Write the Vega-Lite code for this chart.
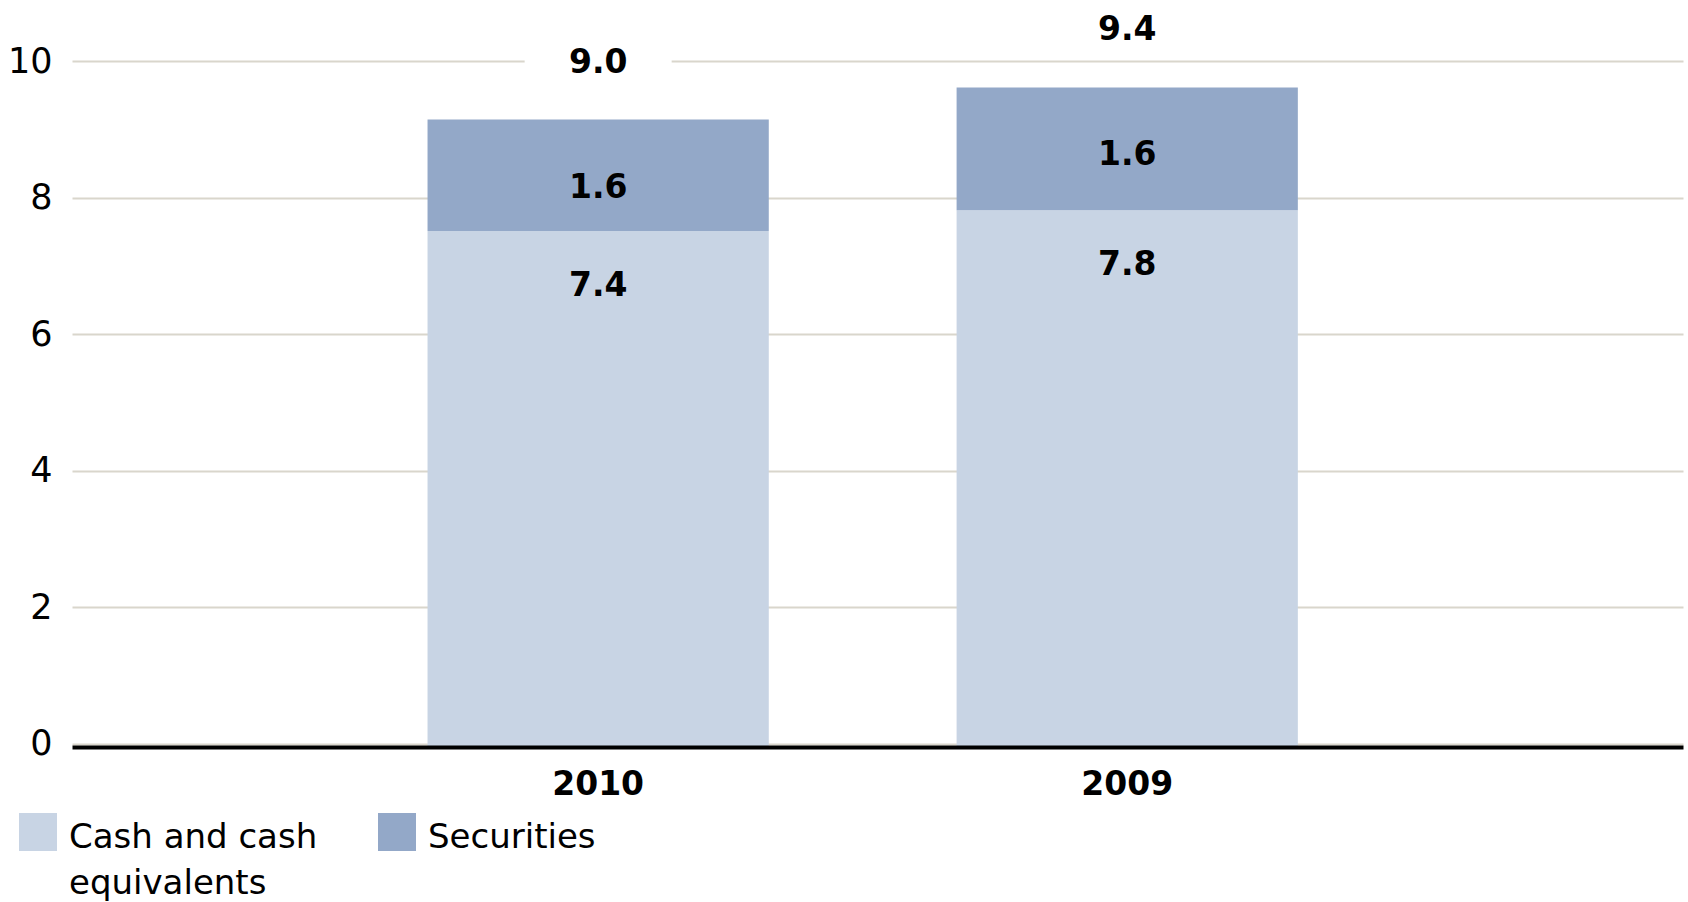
{
  "$schema": "https://vega.github.io/schema/vega-lite/v6.json",
  "width": 1611,
  "height": 686,
  "autosize": {"type": "none"},
  "padding": {"left": 72, "top": 61, "right": 5, "bottom": 155},
  "background": "white",
  "config": {"view": {"stroke": null}, "font": "DejaVu Sans"},
  "data": {"values": [
    {"year": "2010", "type": "Cash and cash equivalents", "value": 7.4, "label": "7.4", "total": "9.0"},
    {"year": "2010", "type": "Securities", "value": 1.6, "label": "1.6", "total": "9.0"},
    {"year": "2009", "type": "Cash and cash equivalents", "value": 7.7, "label": "7.8", "total": "9.4"},
    {"year": "2009", "type": "Securities", "value": 1.76, "label": "1.6", "total": "9.4"}
  ]},
  "transform": [
    {"stack": "value", "groupby": ["year"], "sort": [{"field": "type", "order": "ascending"}], "as": ["v0", "v1"]}
  ],
  "layer": [
    {
      "mark": {"type": "bar", "opacity": 0},
      "encoding": {
        "x": {"field": "year", "type": "nominal", "sort": ["2010", "2009"],
          "scale": {"paddingInner": 0.355, "paddingOuter": 0.7, "align": 0.48},
          "axis": {"title": null, "labelAngle": 0, "labelFontSize": 33, "labelFontWeight": "bold", "labelColor": "black", "labelPadding": 21, "ticks": false, "domainColor": "black", "domainWidth": 4, "zindex": 1, "grid": false, "labelFont": "DejaVu Sans"}},
        "y": {"field": "v1", "type": "quantitative", "scale": {"domain": [-0.044, 10], "nice": false, "zero": false},
          "axis": {"title": null, "grid": true, "gridColor": "#d9d6cc", "gridWidth": 2, "domain": false, "ticks": false, "labelFontSize": 35, "labelColor": "black", "labelPadding": 20, "values": [0, 2, 4, 6, 8, 10], "labelFont": "DejaVu Sans"}}
      }
    },
    {
      "transform": [{"filter": "datum.type === 'Securities' && datum.year === '2010'"}],
      "mark": {"type": "square", "size": 21609, "color": "white", "opacity": 1, "filled": true, "yOffset": -57},
      "encoding": {
        "x": {"field": "year", "type": "nominal", "sort": ["2010", "2009"]},
        "y": {"field": "v1", "type": "quantitative", "scale": {"domain": [0, 9.84], "nice": false}, "axis": null}
      }
    },
    {
      "mark": {"type": "bar"},
      "encoding": {
        "x": {"field": "year", "type": "nominal", "sort": ["2010", "2009"]},
        "y": {"field": "v0", "type": "quantitative", "scale": {"domain": [0, 9.84], "nice": false}, "axis": null},
        "y2": {"field": "v1"},
        "color": {"field": "type", "type": "nominal",
          "scale": {"domain": ["Cash and cash equivalents", "Securities"], "range": ["#c8d4e4", "#93a8c8"]},
          "legend": {"title": null, "orient": "none", "legendX": -53, "legendY": 752, "direction": "horizontal", "columns": 2, "columnPadding": 60, "rowPadding": 0, "padding": 0,
            "symbolType": "square", "symbolSize": 1444, "symbolStrokeWidth": 0, "symbolOpacity": 1,
            "labelFontSize": 34, "labelFont": "DejaVu Sans", "labelColor": "black", "labelOffset": 12, "labelLimit": 400,
            "labelBaseline": "alphabetic",
            "labelExpr": "datum.label == 'Cash and cash equivalents' ? ['Cash and cash', 'equivalents'] : [datum.label, ' ']",
            "encode": {"labels": {"update": {"dy": {"value": 16}, "lineHeight": {"value": 46}}}}}
        }
      }
    },
    {
      "transform": [{"filter": "datum.type === 'Securities'"}],
      "mark": {"type": "text", "fontSize": 33, "fontWeight": "bold", "dy": -57, "color": "black"},
      "encoding": {
        "x": {"field": "year", "type": "nominal", "sort": ["2010", "2009"]},
        "y": {"field": "v1", "type": "quantitative", "scale": {"domain": [0, 9.84], "nice": false}, "axis": null},
        "text": {"field": "total", "type": "nominal"}
      }
    },
    {
      "transform": [{"filter": "datum.type === 'Securities'"}],
      "mark": {"type": "text", "fontSize": 33, "fontWeight": "bold", "dy": 68, "color": "black"},
      "encoding": {
        "x": {"field": "year", "type": "nominal", "sort": ["2010", "2009"]},
        "y": {"field": "v1", "type": "quantitative", "scale": {"domain": [0, 9.84], "nice": false}, "axis": null},
        "text": {"field": "label", "type": "nominal"}
      }
    },
    {
      "transform": [{"filter": "datum.type === 'Cash and cash equivalents'"}],
      "mark": {"type": "text", "fontSize": 33, "fontWeight": "bold", "dy": 55, "color": "black"},
      "encoding": {
        "x": {"field": "year", "type": "nominal", "sort": ["2010", "2009"]},
        "y": {"field": "v1", "type": "quantitative", "scale": {"domain": [0, 9.84], "nice": false}, "axis": null},
        "text": {"field": "label", "type": "nominal"}
      }
    }
  ],
  "resolve": {"scale": {"y": "independent"}, "axis": {"y": "independent"}}
}
